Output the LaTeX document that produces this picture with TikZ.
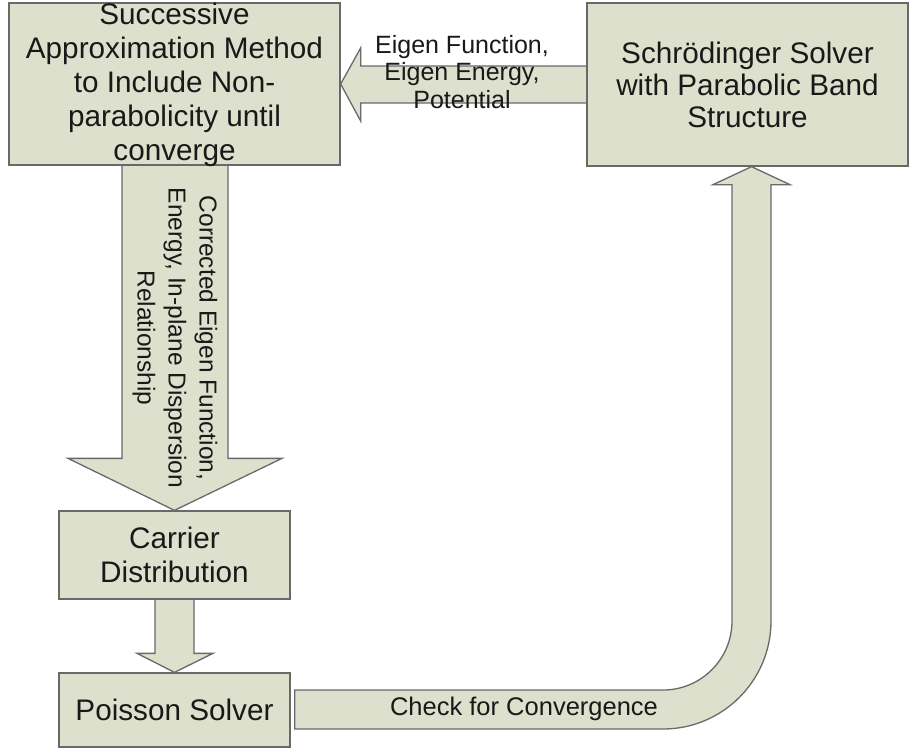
\documentclass[tikz,border=0pt]{standalone}
\usepackage{fontspec}
\setmainfont{Liberation Sans}
\usetikzlibrary{calc,backgrounds}
\definecolor{boxfill}{RGB}{221,224,204}
\definecolor{edgegray}{RGB}{105,105,105}
\definecolor{inkc}{RGB}{25,25,25}
\begin{document}
\begin{tikzpicture}[x=1pt,y=-1pt,
  boxnode/.style={draw=edgegray,fill=boxfill,line width=1.3pt,inner sep=0pt,rectangle},
  blockarrow/.style={draw=edgegray,fill=boxfill,line width=1.3pt,line join=miter},
  boxtext/.style={text=inkc,align=center,inner sep=0pt,font=\fontsize{29.7}{34}\selectfont},
  arrowtext/.style={text=inkc,align=center,inner sep=0pt,font=\fontsize{25}{27}\selectfont}]
\useasboundingbox (0,0) rectangle (909,748);

% boxes
\node[boxnode, minimum width=331pt, minimum height=162pt] (sam) at (174.5,84) {};
\node[boxtext] (samtext) at ($(sam.center)+(0,1)$) {Successive\\Approximation Method\\to Include Non-\\parabolicity until\\converge};
\node[boxnode, boxtext, font=\fontsize{29.7}{32}\selectfont, minimum width=321pt, minimum height=163pt] (sch) at (747.5,84.5) {Schrödinger Solver\\with Parabolic Band\\Structure};
\node[boxnode, boxtext, minimum width=231pt, minimum height=88pt] (car) at (174.5,555) {Carrier\\Distribution};
\node[boxnode, boxtext, minimum width=231pt, minimum height=74pt] (poi) at (174.5,710) {Poisson Solver};
\coordinate (bend) at (663,621);

\begin{scope}[on background layer]
% left arrow: Schroedinger -> Successive
\draw[blockarrow] (sam.east) -- ++(20,-36) -- ++(0,18) -- ($(sch.west)+(4,-18.5)$) -- ++(0,37)
  -- ($(sam.east)+(20,19)$) -- ++(0,18) -- cycle;
% down arrow: Successive -> Carrier
\draw[blockarrow] ($(sam.south)+(-52.5,-4)$) -- ($(car.north)+(-52.5,-52)$) -- ++(-54,0) -- (car.north)
  -- ($(car.north)+(107.5,-52)$) -- ++(-54,0) -- ($(sam.south)+(53.5,-4)$) -- cycle;
% small arrow: Carrier -> Poisson
\draw[blockarrow] ($(car.south)+(-19.5,-3)$) -- ($(poi.north)+(-19.5,-19)$) -- ++(-18,0) -- (poi.north)
  -- ($(poi.north)+(38.5,-19)$) -- ++(-19,0) -- ($(car.south)+(19.5,-3)$) -- cycle;
% curved arrow: Poisson -> Schroedinger
\draw[blockarrow] ($(poi.east)+(4,-20)$) -- ($(bend)+(0,69)$)
  .. controls ($(bend)+(38.1,69)$) and ($(bend)+(69,38.1)$) .. ($(bend)+(69,0)$)
  -- ($(sch.south)+(-15.5,18)$) -- ++(-19,0) -- ($(sch.south)+(4,0)$)
  -- ($(sch.south)+(42.5,18)$) -- ++(-19,0) -- ($(bend)+(108,0)$)
  .. controls ($(bend)+(108,59.6)$) and ($(bend)+(59.6,108)$) .. ($(bend)+(0,108)$)
  -- ($(poi.east)+(4,19)$) -- cycle;
\end{scope}

% arrow labels
\node[arrowtext, font=\fontsize{25}{27.5}\selectfont] (eigtext) at (462,72) {Eigen Function,\\Eigen Energy,\\Potential};
\node[arrowtext, rotate=-90, font=\fontsize{24.5}{31}\selectfont] (corrtext) at (175,338) {Corrected Eigen Function,\\Energy, In-plane Dispersion\\Relationship};
\node[arrowtext, font=\fontsize{25.5}{27}\selectfont] (chktext) at (524,709) {Check for Convergence};
\end{tikzpicture}
\end{document}
